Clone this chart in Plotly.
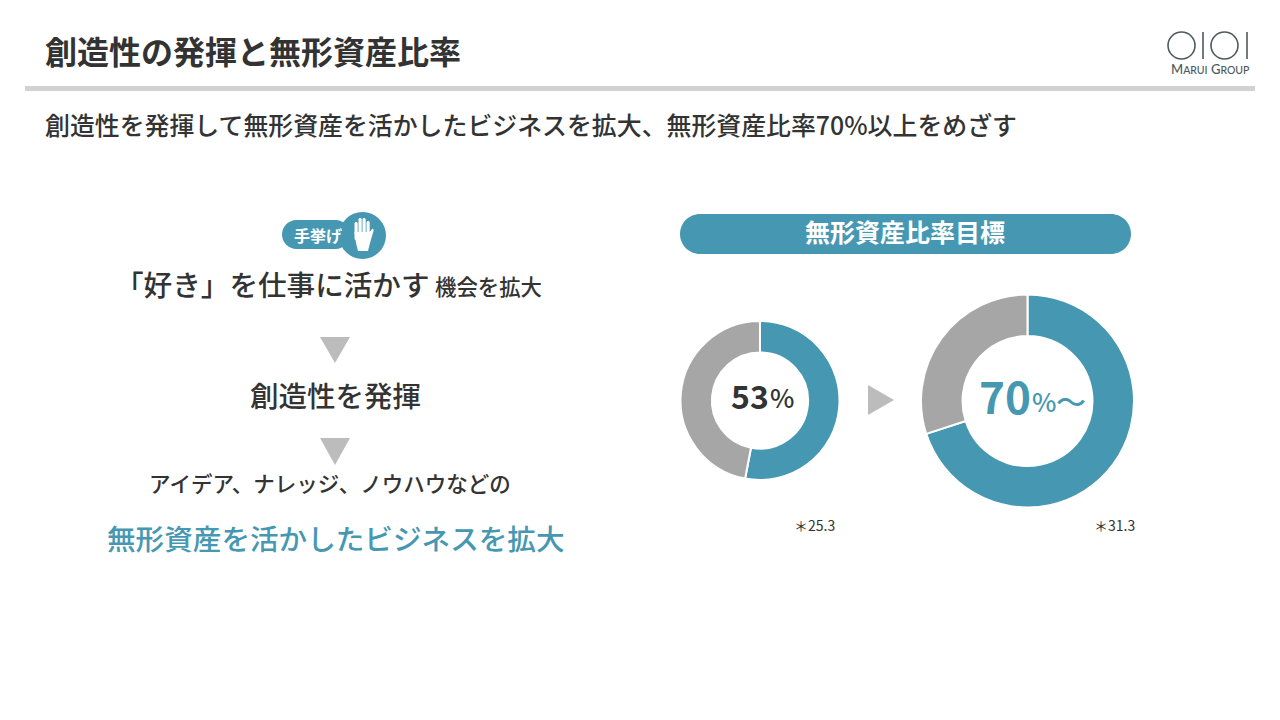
import plotly.graph_objects as go

W, H = 1280, 720
TEAL = "#4698b2"
GREY = "#a6a6a6"
DARK = "#333333"
ARROW = "#bcbcbc"
LOGO = "#4d5a5c"
JP = "Noto Sans CJK JP"

segments = ["無形資産", "その他"]
current_values = [53, 47]
target_values = [70, 30]

title_text = "創造性の発揮と無形資産比率"
subtitle_text = "創造性を発揮して無形資産を活かしたビジネスを拡大、無形資産比率70%以上をめざす"
pill_text = "無形資産比率目標"
current_note = "＊25.3"
target_note = "＊31.3"


def dom(cx, cy, r):
    return dict(x=[(cx - r) / W, (cx + r) / W], y=[1 - (cy + r) / H, 1 - (cy - r) / H])


def rrect(x0, y0, x1, y1, r):
    k = r * 0.448
    return (f"M{x0+r},{y0} L{x1-r},{y0} C{x1-k},{y0} {x1},{y0+k} {x1},{y0+r} L{x1},{y1-r} "
            f"C{x1},{y1-k} {x1-k},{y1} {x1-r},{y1} L{x0+r},{y1} C{x0+k},{y1} {x0},{y1-k} {x0},{y1-r} "
            f"L{x0},{y0+r} C{x0},{y0+k} {x0+k},{y0} {x0+r},{y0} Z")


def fill_shape(path, color):
    return dict(type="path", path=path, fillcolor=color, line=dict(width=0), xref="x", yref="y")


def txt(x, y, s, size, color=DARK, anchor="center", weight=700, family=JP):
    return dict(x=x, y=y, text=s, showarrow=False, xanchor=anchor, yanchor="middle", xref="x", yref="y",
                font=dict(family=family, size=size, color=color, weight=weight))


fig = go.Figure()
fig.add_trace(go.Scatter(x=[0, W], y=[0, H], mode="markers", marker=dict(opacity=0), hoverinfo="skip", showlegend=False))
for vals, d, hole in [(current_values, dom(760, 400.5, 79.5), 0.605), (target_values, dom(1027.5, 401, 106.5), 0.61)]:
    fig.add_trace(go.Pie(labels=segments, values=vals, hole=hole, domain=d, sort=False, direction="clockwise",
                         rotation=0, textinfo="none", showlegend=False,
                         marker=dict(colors=[TEAL, GREY], line=dict(color="white", width=2))))

shapes = [
    dict(type="rect", x0=25, x1=1255, y0=86, y1=91, fillcolor="#d2d2d2", line=dict(width=0), xref="x", yref="y"),
    dict(type="circle", x0=1168, x1=1195, y0=32, y1=59, line=dict(color=LOGO, width=1.6), xref="x", yref="y"),
    dict(type="circle", x0=1211, x1=1238, y0=32, y1=59, line=dict(color=LOGO, width=1.6), xref="x", yref="y"),
    dict(type="line", x0=1203, x1=1203, y0=32, y1=59, line=dict(color=LOGO, width=1.6), xref="x", yref="y"),
    dict(type="line", x0=1247, x1=1247, y0=32, y1=59, line=dict(color=LOGO, width=1.6), xref="x", yref="y"),
    fill_shape(rrect(282, 220, 350, 249, 14.5), TEAL),
    dict(type="circle", x0=339, x1=386, y0=212, y1=259, fillcolor=TEAL, line=dict(width=0), xref="x", yref="y"),
    fill_shape(rrect(680, 214, 1131, 254, 20), TEAL),
    fill_shape("M320,337 L350,337 L335,363 Z", ARROW),
    fill_shape("M320,438 L350,438 L335,465 Z", ARROW),
    fill_shape("M868,385 L894,400 L868,415 Z", ARROW),
]
for x0, y0 in [(354.5, 222), (358.5, 218), (362.5, 218), (366.5, 221)]:
    shapes.append(fill_shape(rrect(x0, y0, x0 + 3.2, 240, 1.5), "white"))
shapes.append(fill_shape("M354.5,232 L369.7,232 L372,229 Q374,228 373.5,231 L370,243 L368,251 L358,251 L356,243 Z", "white"))

annotations = [
    txt(43, 50, title_text, 32, anchor="left"),
    txt(43, 124, subtitle_text, 24.9, anchor="left", weight=500),
    txt(1210, 69, "M<span style='font-size:10.5px'>ARUI</span> G<span style='font-size:10.5px'>ROUP</span>", 13,
        color=LOGO, weight=500, family="Lato"),
    txt(318, 234.5, "手挙げ", 16, color="white"),
    txt(272.5, 283, "「好き」を仕事に活かす", 28.6, weight=500),
    txt(488, 285, "機会を拡大", 21.4, weight=500),
    txt(335, 394, "創造性を発揮", 28.5, weight=500),
    txt(330, 482, "アイデア、ナレッジ、ノウハウなどの", 21.5, weight=500),
    txt(336, 537, "無形資産を活かしたビジネスを拡大", 28.6, color=TEAL, weight=500),
    txt(905, 231, pill_text, 25, color="white"),
    txt(749.5, 395, "53", 32),
    txt(782, 396, "%", 26, weight=500),
    txt(1005, 395, "70", 44, color=TEAL),
    txt(1044, 400, "%", 26, color=TEAL, weight=500),
    txt(1070.5, 400, "～", 30, color=TEAL, weight=500),
    txt(814, 525, current_note, 14, weight=400),
    txt(1114, 525, target_note, 14, weight=400),
]

fig.update_layout(
    width=W, height=H, margin=dict(l=0, r=0, t=0, b=0),
    paper_bgcolor="white", plot_bgcolor="white", showlegend=False,
    xaxis=dict(range=[0, W], visible=False, fixedrange=True),
    yaxis=dict(range=[H, 0], visible=False, fixedrange=True),
    shapes=shapes, annotations=annotations,
)
fig.write_html("out.html", config=dict(displayModeBar=False),
               post_script="document.body.style.margin='0';document.body.style.overflow='hidden';")
